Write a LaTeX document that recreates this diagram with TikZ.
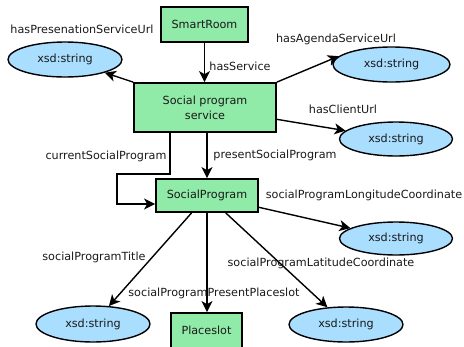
\documentclass[tikz,border=0pt]{standalone}
\usepackage{fontspec}
\setmainfont{DejaVu Sans}
\usetikzlibrary{shapes.geometric,arrows.meta}
\definecolor{boxgreen}{RGB}{144,235,168}
\definecolor{ellblue}{RGB}{170,222,255}
\begin{document}
\begin{tikzpicture}[x=1pt,y=-1pt,
  every node/.style={font=\fontsize{11.2}{15}\selectfont, text=black!90},
  cls/.style={draw, line width=1.8pt, fill=boxgreen, rectangle, inner sep=0pt, align=center},
  lit/.style={draw, line width=1.4pt, fill=ellblue, ellipse, inner sep=0pt},
  lbl/.style={inner sep=0pt},
  arr/.style={line width=1.4pt, -{Stealth[length=11pt,width=11pt,inset=3pt]}, line join=miter}]
\useasboundingbox (0,0) rectangle (464,346);
% class boxes
\node[cls, minimum width=87pt, minimum height=35pt] (smart) at (204.5,24.5) {SmartRoom};
\node[cls, minimum width=142pt, minimum height=49pt] (svc) at (205,107.5) {Social program\\service};
\node[cls, minimum width=102pt, minimum height=33pt] (sp) at (207,195.5) {SocialProgram};
\node[cls, minimum width=71pt, minimum height=35pt] (place) at (206.5,330.5) {Placeslot};
% literals
\node[lit, minimum width=114pt, minimum height=35pt] (e1) at (65,59.5) {xsd:string};
\node[lit, minimum width=117pt, minimum height=35pt] (e2) at (391.5,64.5) {xsd:string};
\node[lit, minimum width=113pt, minimum height=34pt] (e3) at (396,139) {xsd:string};
\node[lit, minimum width=113pt, minimum height=33pt] (e4) at (396,238.5) {xsd:string};
\node[lit, minimum width=114pt, minimum height=35pt] (e5) at (346,324.5) {xsd:string};
\node[lit, minimum width=114pt, minimum height=36pt] (e6) at (93,324) {xsd:string};
% connectors
\draw[arr] (smart.south) -- (smart.south |- svc.north);
\draw[arr] (svc.north west) -- (e1);
\draw[arr] (svc.north east) -- (e2.171);
\draw[arr] (svc) -- (e3);
\draw[arr] (sp.north |- svc.south) -- (sp.north);
\coordinate (c1) at (170,174);
\coordinate (c2) at (117,174);
\coordinate (c3) at (117,204);
\draw[arr] (svc.south -| c1) -- (c1) -- (c2) -- (c3) -- (c3 -| sp.west);
\draw[arr] (sp) -- (e6);
\draw[arr] (sp.south) -- (sp.south |- place.north);
\draw[arr] (sp) -- (e5);
\draw[arr] (sp) -- (e4);
% labels
\node[lbl] (l1) at (82,29) {hasPresenationServiceUrl};
\node[lbl] (l2) at (240,66) {hasService};
\node[lbl] (l3) at (336,39) {hasAgendaServiceUrl};
\node[lbl] (l4) at (343,109) {hasClientUrl};
\node[lbl] (l5) at (106,156) {currentSocialProgram};
\node[lbl] (l6) at (275,155) {presentSocialProgram};
\node[lbl] (l7) at (364,195) {socialProgramLongitudeCoordinate};
\node[lbl] (l8) at (94,257) {socialProgramTitle};
\node[lbl] (l9) at (321,263) {socialProgramLatitudeCoordinate};
\node[lbl] (l10) at (214,293) {socialProgramPresentPlaceslot};
\end{tikzpicture}
\end{document}
